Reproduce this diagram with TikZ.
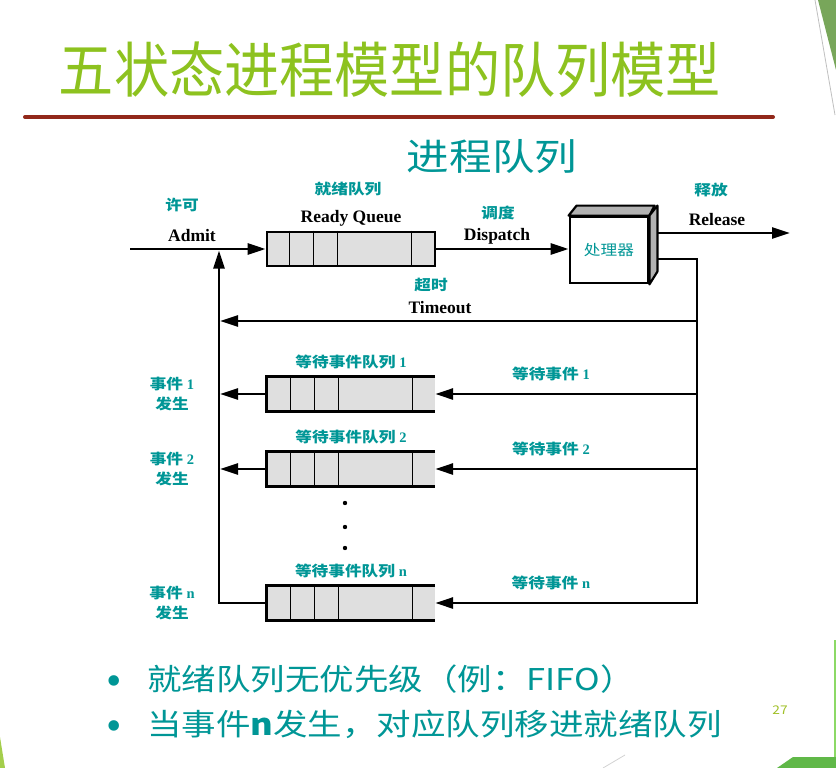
\documentclass[tikz,border=0pt]{standalone}
\usepackage{fontspec}
\setmainfont{Liberation Serif}
\newfontfamily\cjk[FakeStretch=1.15]{Noto Sans CJK SC}
\newfontfamily\titlefont[FakeStretch=0.92]{Noto Sans CJK SC}
\usetikzlibrary{arrows.meta,calc}
\definecolor{titlegreen}{RGB}{141,194,31}
\definecolor{tealtxt}{RGB}{0,150,150}
\definecolor{barred}{RGB}{146,40,26}
\definecolor{cornergreen}{RGB}{120,166,90}
\definecolor{pagegreen}{RGB}{160,192,40}

\begin{document}
\begin{tikzpicture}[x=1pt,y=-1pt,
  line/.style={line width=2.7pt},
  arr/.style={line width=2.7pt,-{Triangle[length=18pt,width=11pt]}},
  queue/.style={draw,line width=2.8pt,fill=gray!25,minimum width=168pt,minimum height=34pt,inner sep=0pt},
  wqueue/.style={fill=gray!25,minimum width=168pt,minimum height=34pt,inner sep=0pt},
  cpubox/.style={draw,line width=2.8pt,fill=white,minimum width=78pt,minimum height=66pt,text=tealtxt,font=\cjk\fontsize{14.5}{16}\selectfont},
  cn/.style={text=tealtxt,font=\cjk\bfseries\fontsize{14.5}{20}\selectfont,inner sep=1pt,align=center},
  en/.style={font=\bfseries\fontsize{17.5}{19}\selectfont,inner sep=1pt},
  bul/.style={text=tealtxt,font=\fontsize{44}{44}\selectfont,inner sep=0pt},
  btext/.style={text=tealtxt,font=\cjk\fontsize{30}{34}\selectfont,inner sep=0pt,anchor=west}]
\useasboundingbox (0,0) rectangle (836,768);

% slide corners
\fill[cornergreen] (818,0) -- (836,0) -- (836,70) -- cycle;
\draw[gray!50,line width=0.8pt] (815,0) -- (835,115);
\fill[green!50!olive!60] (834,640) rectangle (836,757);
\fill[cornergreen!80!green] (777,768) -- (793,757) -- (836,757) -- (836,768) -- cycle;
\fill[titlegreen!80] (0,737) -- (5,768) -- (0,768) -- cycle;
\draw[gray!35,line width=0.8pt] (603,768) -- (625,755);

% heading
\node[text=titlegreen,font=\titlefont\fontsize{60}{60}\selectfont] (title) at (390,70) {五状态进程模型的队列模型};
\draw[barred,line width=4pt,line cap=round] (25,117) -- (773,117);
\node[text=tealtxt,font=\cjk\fontsize{37}{40}\selectfont] (sub) at (492,157) {进程队列};

% ready queue and processor
\node[queue] (rq) at (351,249) {};
\foreach \d in {24,48,72,146}
  \draw[thick] ($(rq.north west)+(\d,0)$) -- ($(rq.south west)+(\d,0)$);
\node[cpubox] (cpu) at (609,250) {处理器};
\filldraw[fill=gray!60,line width=2.2pt,line join=round] (cpu.north west) -- ++(8,-10) -- ++(78,0) -- (cpu.north east) -- cycle;
\filldraw[fill=gray!60,line width=2.2pt,line join=round] (cpu.north east) -- ++(8,-10) -- ++(0,66) -- (cpu.south east) -- cycle;

\coordinate (in) at (130,249);
\coordinate (adm) at (219,250.5);
\coordinate (cpuR1) at (657,233);
\coordinate (out) at (790,233);
\coordinate (cpuR2) at (657,259);
\coordinate (rt) at (697,321);
\coordinate (lt) at (220,321);
\coordinate (rn) at (697,603);

\draw[arr] (in) -- (rq.west);
\draw[arr] (rq.east) -- (rq.east -| cpu.west);
\draw[arr] (cpuR1) -- (out);
\draw[arr] (rt) -- (lt);

\node[cn] at (182,205) {许可};
\node[en] at (192,236) {Admit};
\node[cn] at (348,189) {就绪队列};
\node[en] at (351,218) {Ready Queue};
\node[cn] at (498,213) {调度};
\node[en] at (497,236) {Dispatch};
\node[cn] at (711,190) {释放};
\node[en] at (717,220) {Release};
\node[cn] at (431,285) {超时};
\node[en] at (440,308) {Timeout};

% event queues
\foreach \q/\y in {1/394,2/469,n/603} {
  \node[wqueue] (wq\q) at (351,\y) {};
  \draw[line width=2.8pt] (wq\q.north east) -- (wq\q.north west) -- (wq\q.south west) -- (wq\q.south east);
  \foreach \d in {24,48,72,146}
    \draw[thick] ($(wq\q.north west)+(\d,0)$) -- ($(wq\q.south west)+(\d,0)$);
  \coordinate (r\q) at (697,\y);
  \node[cn] at ($(wq\q.north)+(0,-15)$) {等待事件队列 \textrm{\q}};
  \node[cn] at (551,\y-20) {等待事件 \textrm{\q}};
  \node[cn] at (172,\y) {事件 \textrm{\q}\\发生};
}
\foreach \q in {1,2} {
  \coordinate (l\q) at (220,0 |- wq\q.west);
  \draw[arr] (wq\q.west) -- (l\q);
  \draw[arr] (r\q) -- (wq\q.east);
}
\draw[arr] (cpuR2) -| (rn) -- (wqn.east);
\draw[arr] (wqn.west) -| (adm);
\foreach \yy in {503,527,548}
  \fill (345,\yy) circle (2.2pt);

% notes
\node[bul] (b1) at (114,686) {•};
\node[btext] (t1) at (147,679) {就绪队列无优先级（例：FIFO）};
\node[bul] (b2) at (114,731) {•};
\node[btext] (t2) at (147,724) {当事件\textbf{n}发生，对应队列移进就绪队列};
\node[text=pagegreen,font=\cjk\fontsize{12}{13}\selectfont] (page) at (780,710) {27};
\end{tikzpicture}
\end{document}
